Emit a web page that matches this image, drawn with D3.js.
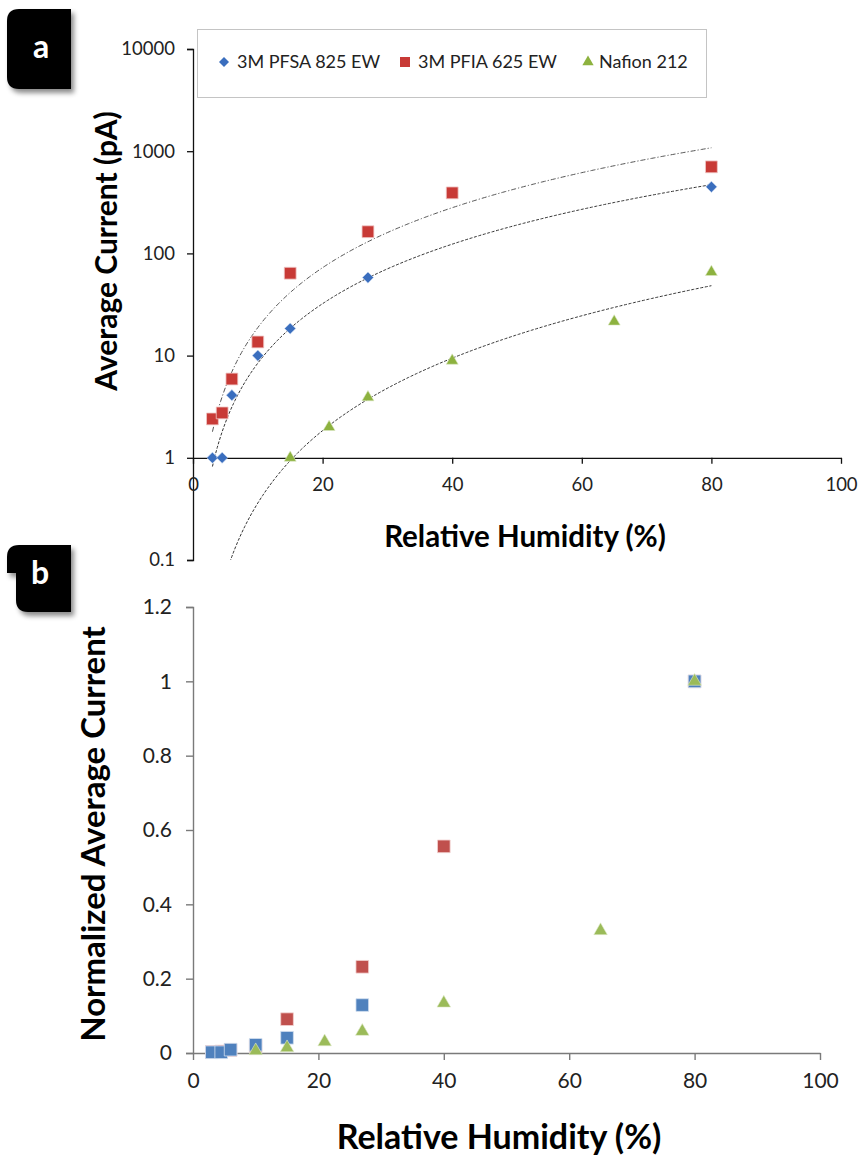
<!DOCTYPE html>
<html>
<head>
<meta charset="utf-8">
<script src="https://cdn.jsdelivr.net/npm/d3@7"></script>
<style>
body { margin: 0; background: #fff; }
svg { display: block; }
</style>
</head>
<body>
<svg id="chart" width="858" height="1156"></svg>
<script>
// panel a: average current (pA) vs relative humidity (%)
const rhPFSA = [3, 4.5, 6, 10, 15, 27, 80]
const curPFSA = [1, 1, 4.1, 10, 18.4, 58, 448]
const rhPFIA = [3, 4.5, 6, 10, 15, 27, 40, 80]
const curPFIA = [2.4, 2.75, 5.9, 13.6, 64, 163, 391, 703]
const rhNafion = [15, 21, 27, 40, 65, 80]
const curNafion = [1, 2, 3.9, 8.9, 21.5, 65.7]

// panel b: normalized average current
const normPFSA = [0.002, 0.002, 0.009, 0.022, 0.041, 0.129, 1]
const normPFIA = [0.003, 0.004, 0.008, 0.019, 0.091, 0.232, 0.556, 1]
const rhNafionB = [10, 15, 21, 27, 40, 65, 80]
const normNafion = [0.006, 0.014, 0.03, 0.058, 0.134, 0.329, 1]

const logTicks = [0.1, 1, 10, 100, 1000, 10000]
const rhTicks = [0, 20, 40, 60, 80, 100]
const normTicks = [0, 0.2, 0.4, 0.6, 0.8, 1, 1.2]
const seriesNames = ["3M PFSA 825 EW", "3M PFIA 625 EW", "Nafion 212"]

const font = "Lato, 'Open Sans', sans-serif"
const zip = (xs, ys) => xs.map((x, i) => ({x, y: ys[i]}))

const svg = d3.select("#chart")

const defs = svg.append("defs")
defs.append("filter").attr("id", "shadow")
    .attr("x", "-20%").attr("y", "-20%").attr("width", "150%").attr("height", "150%")
    .append("feDropShadow")
    .attr("dx", 3).attr("dy", 4).attr("stdDeviation", 2.5)
    .attr("flood-color", "#000").attr("flood-opacity", 0.45)

// ---------- panel a ----------
const xA = d3.scaleLinear().domain([0, 100]).range([193, 841])
const yA = d3.scaleLog().domain([0.1, 10000]).range([560, 49])

defs.append("clipPath").attr("id", "clipA")
    .append("rect")
    .attr("x", xA(0)).attr("y", yA(10000))
    .attr("width", xA(100) - xA(0)).attr("height", yA(0.1) - yA(10000))

// Excel-style power trendline, fitted in log-log space
function powerFit(xs, ys) {
    const lx = xs.map(Math.log), ly = ys.map(Math.log)
    const mx = d3.mean(lx), my = d3.mean(ly)
    const b = d3.sum(lx, (v, i) => (v - mx) * (ly[i] - my)) / d3.sum(lx, v => (v - mx) ** 2)
    const a = Math.exp(my - b * mx)
    return x => a * Math.pow(x, b)
}

const trendX = d3.range(3, 80.001, 0.25)
const trends = [
    {f: powerFit(rhPFSA, curPFSA), dash: "3,1.6", color: "#333"},
    {f: powerFit(rhPFIA, curPFIA), dash: "5,2,1.2,2", color: "#555"},
    {f: powerFit(rhNafion, curNafion), dash: "3,1.6", color: "#333"}
]
const trendLine = d3.line().x(d => xA(d.x)).y(d => yA(d.y))

svg.append("g")
    .attr("clip-path", "url(#clipA)")
    .selectAll("path")
    .data(trends)
    .join("path")
    .attr("fill", "none")
    .attr("stroke", d => d.color)
    .attr("stroke-width", 1)
    .attr("stroke-dasharray", d => d.dash)
    .attr("d", d => trendLine(trendX.map(x => ({x, y: d.f(x)}))))

// axes a
svg.append("g")
    .attr("transform", `translate(${xA(0)},0)`)
    .call(d3.axisLeft(yA).tickValues(logTicks).tickFormat(d => d).tickSize(6).tickPadding(12))
    .attr("font-family", font)
    .attr("font-size", 18.5)
    .call(g => g.selectAll("path,line").attr("stroke", "#111").attr("stroke-width", 1.3))
    .call(g => g.selectAll("text").attr("fill", "#222"))

svg.append("g")
    .attr("transform", `translate(0,${yA(1)})`)
    .call(d3.axisBottom(xA).tickValues(rhTicks).tickSize(6).tickSizeOuter(0).tickPadding(14))
    .attr("font-family", font)
    .attr("font-size", 18.5)
    .call(g => g.selectAll("path,line").attr("stroke", "#111").attr("stroke-width", 1.3))
    .call(g => g.selectAll("text").attr("fill", "#222"))

// markers a
const diamond = d3.symbol().type(d3.symbolSquare).size(62)
const squareA = d3.symbol().type(d3.symbolSquare).size(140)
const triA = d3.symbol().type(d3.symbolTriangle).size(62)

svg.append("g")
    .selectAll("path")
    .data(zip(rhPFIA, curPFIA))
    .join("path")
    .attr("d", squareA)
    .attr("transform", d => `translate(${xA(d.x)},${yA(d.y)})`)
    .attr("fill", "#c83a36")
    .attr("stroke", "#f0c8c6")
    .attr("stroke-width", 0.8)

svg.append("g")
    .selectAll("path")
    .data(zip(rhPFSA, curPFSA))
    .join("path")
    .attr("d", diamond)
    .attr("transform", d => `translate(${xA(d.x)},${yA(d.y)}) rotate(45)`)
    .attr("fill", "#3a6ebe")
    .attr("stroke", "#c9d8ef")
    .attr("stroke-width", 0.6)

svg.append("g")
    .selectAll("path")
    .data(zip(rhNafion, curNafion))
    .join("path")
    .attr("d", triA)
    .attr("transform", d => `translate(${xA(d.x)},${yA(d.y)})`)
    .attr("fill", "#8db23f")
    .attr("stroke", "#dbe8c4")
    .attr("stroke-width", 0.6)

// legend
const legend = svg.append("g").attr("font-family", font).attr("font-size", 18)
legend.append("rect")
    .attr("x", 197.5).attr("y", 29.5).attr("width", 509).attr("height", 68)
    .attr("fill", "#fff").attr("stroke", "#c4c4c4")
const legendX = [224, 405, 588]
const legendSym = [
    {d: d3.symbol().type(d3.symbolSquare).size(50)(), fill: "#3a6ebe", rot: 45},
    {d: d3.symbol().type(d3.symbolSquare).size(100)(), fill: "#c83a36", rot: 0},
    {d: d3.symbol().type(d3.symbolTriangle).size(55)(), fill: "#8db23f", rot: 0}
]
legend.selectAll("path")
    .data(legendSym)
    .join("path")
    .attr("d", d => d.d)
    .attr("fill", d => d.fill)
    .attr("transform", (d, i) => `translate(${legendX[i]},62) rotate(${d.rot})`)
legend.selectAll("text")
    .data(seriesNames)
    .join("text")
    .attr("x", (d, i) => legendX[i] + (i == 2 ? 11 : 13))
    .attr("y", 62)
    .attr("dy", "0.35em")
    .attr("fill", "#222")
    .text(d => d)

// titles a
svg.append("text")
    .attr("transform", "translate(106,251) rotate(-90)")
    .attr("text-anchor", "middle")
    .attr("dy", "0.35em")
    .attr("font-family", font)
    .attr("font-weight", "bold")
    .attr("font-size", 30)
    .text("Average Current (pA)")

svg.append("text")
    .attr("x", 525).attr("y", 537)
    .attr("text-anchor", "middle")
    .attr("dy", "0.35em")
    .attr("font-family", font)
    .attr("font-weight", "bold")
    .attr("font-size", 29.5)
    .text("Relative Humidity (%)")

// ---------- panel b ----------
const xB = d3.scaleLinear().domain([0, 100]).range([193, 820])
const yB = d3.scaleLinear().domain([0, 1.2]).range([1053, 607])

svg.append("g")
    .attr("transform", `translate(${xB(0)},0)`)
    .call(d3.axisLeft(yB).tickValues(normTicks).tickFormat(d => d).tickSize(7).tickSizeOuter(7).tickPadding(14))
    .attr("font-family", font)
    .attr("font-size", 21)
    .call(g => g.selectAll("path,line").attr("stroke", "#7a7a7a").attr("stroke-width", 1.4))
    .call(g => g.selectAll("text").attr("fill", "#222"))

svg.append("g")
    .attr("transform", `translate(0,${yB(0)})`)
    .call(d3.axisBottom(xB).tickValues(rhTicks).tickSize(7).tickSizeOuter(0).tickPadding(13))
    .attr("font-family", font)
    .attr("font-size", 21)
    .call(g => g.selectAll("path,line").attr("stroke", "#7a7a7a").attr("stroke-width", 1.4))
    .call(g => g.selectAll("text").attr("fill", "#222"))

const squareB = d3.symbol().type(d3.symbolSquare).size(160)
const triB = d3.symbol().type(d3.symbolTriangle).size(80)

svg.append("g")
    .selectAll("path")
    .data(zip(rhPFIA, normPFIA))
    .join("path")
    .attr("d", squareB)
    .attr("transform", d => `translate(${xB(d.x)},${yB(d.y)})`)
    .attr("fill", "#c0504d")
    .attr("stroke", "#f2d2d1")
    .attr("stroke-width", 0.8)

svg.append("g")
    .selectAll("path")
    .data(zip(rhPFSA, normPFSA))
    .join("path")
    .attr("d", squareB)
    .attr("transform", d => `translate(${xB(d.x)},${yB(d.y)})`)
    .attr("fill", "#4f81bd")
    .attr("stroke", "#d3e0f0")
    .attr("stroke-width", 0.8)

svg.append("g")
    .selectAll("path")
    .data(zip(rhNafionB, normNafion))
    .join("path")
    .attr("d", triB)
    .attr("transform", d => `translate(${xB(d.x)},${yB(d.y)})`)
    .attr("fill", "#9bbb59")
    .attr("stroke", "#e1ebcc")
    .attr("stroke-width", 0.6)

// titles b
svg.append("text")
    .attr("transform", "translate(93,834) rotate(-90)")
    .attr("text-anchor", "middle")
    .attr("dy", "0.35em")
    .attr("font-family", font)
    .attr("font-weight", "bold")
    .attr("font-size", 33)
    .text("Normalized Average Current")

svg.append("text")
    .attr("x", 499).attr("y", 1137)
    .attr("text-anchor", "middle")
    .attr("dy", "0.35em")
    .attr("font-family", font)
    .attr("font-weight", "bold")
    .attr("font-size", 34)
    .text("Relative Humidity (%)")

// ---------- panel labels ----------
const tags = svg.append("g").attr("font-family", font).attr("font-weight", "bold")
tags.append("path")
    .attr("d", "M7,21 Q7,9 19,9 H71 V89 H19 Q7,89 7,77 Z")
    .attr("fill", "#000")
    .attr("filter", "url(#shadow)")
tags.append("text")
    .attr("x", 41).attr("y", 47).attr("dy", "0.35em")
    .attr("text-anchor", "middle").attr("fill", "#fff").attr("font-size", 32)
    .text("a")
tags.append("path")
    .attr("d", "M7,557 Q7,545 19,545 H71 V612 H28 Q16,612 16,600 V573 H7 Z")
    .attr("fill", "#000")
    .attr("filter", "url(#shadow)")
tags.append("text")
    .attr("x", 40).attr("y", 573).attr("dy", "0.35em")
    .attr("text-anchor", "middle").attr("fill", "#fff").attr("font-size", 32)
    .text("b")
</script>
</body>
</html>
